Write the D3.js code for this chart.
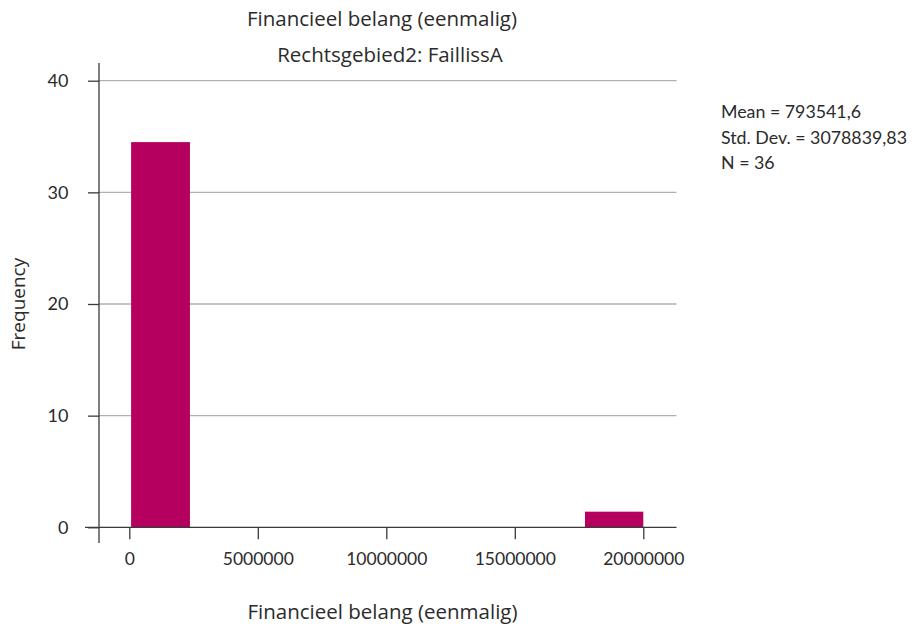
<!DOCTYPE html>
<html>
<head>
<meta charset="utf-8">
<script src="https://cdn.jsdelivr.net/npm/d3@7"></script>
<style>
  html, body { margin: 0; padding: 0; background: #fff; }
  svg text { font-family: Lato, "Noto Sans", sans-serif; fill: #2b2b2b; }
  svg text.ttl { font-family: "Open Sans", Lato, sans-serif; }
</style>
</head>
<body>
<svg id="chart" width="924" height="627"></svg>
<script>
// ---- data ----
const chartTitle = "Financieel belang (eenmalig)";
const chartSubtitle = "Rechtsgebied2: FaillissA";
const xAxisTitle = "Financieel belang (eenmalig)";
const yAxisTitle = "Frequency";
const binStarts = [70000, 17730000];
const binEnds = [2360000, 20000000];
const frequencies = [34.5, 1.4];
const xTicks = [0, 5000000, 10000000, 15000000, 20000000];
const yTicks = [0, 10, 20, 30, 40];
const statsLines = ["Mean = 793541,6", "Std. Dev. = 3078839,83", "N = 36"];

// ---- layout ----
const svg = d3.select("#chart");
const x = d3.scaleLinear().domain([0, 20000000]).range([129.3, 643.3]);
const y = d3.scaleLinear().domain([0, 40]).range([527.3, 80.7]);
const axisColor = "#3a3a3a";

// gridlines
svg.append("g").selectAll("line")
  .data(yTicks.filter(d => d > 0))
  .join("line")
  .attr("x1", 99).attr("x2", 676.5)
  .attr("y1", d => y(d)).attr("y2", d => y(d))
  .attr("stroke", "#b0b0b0").attr("stroke-width", 1.3);

// bars
svg.append("g").selectAll("rect")
  .data(frequencies.map((f, i) => ({ f, s: binStarts[i], e: binEnds[i] })))
  .join("rect")
  .attr("x", d => x(d.s))
  .attr("width", d => x(d.e) - x(d.s))
  .attr("y", d => y(d.f))
  .attr("height", d => y(0) - y(d.f))
  .attr("fill", "#b5005f");

// y axis
const yAxis = d3.axisLeft(y).tickValues(yTicks).tickSize(11).tickPadding(19.5).tickFormat(d3.format("d"));
const gy = svg.append("g").attr("transform", "translate(99,0)").call(yAxis);
gy.select(".domain").remove();
gy.append("line").attr("x1", 0).attr("x2", 0).attr("y1", 63).attr("y2", 543)
  .attr("stroke", axisColor).attr("stroke-width", 1.3);
gy.selectAll(".tick line").attr("stroke", axisColor).attr("stroke-width", 1.3);
gy.selectAll(".tick text").attr("font-size", 18).style("fill", "#2b2b2b");

// x axis
const xAxis = d3.axisBottom(x).tickValues(xTicks).tickSize(12).tickPadding(13).tickFormat(d3.format("d"));
const gx = svg.append("g").attr("transform", `translate(0,${y(0)})`).call(xAxis);
gx.select(".domain").remove();
gx.append("line").attr("x1", 85).attr("x2", 676.5).attr("y1", 0).attr("y2", 0)
  .attr("stroke", axisColor).attr("stroke-width", 1.3);
gx.selectAll(".tick line").attr("stroke", axisColor).attr("stroke-width", 1.3);
gx.selectAll(".tick text").attr("font-size", 17.5).style("fill", "#2b2b2b");

// titles
svg.append("text").attr("class", "ttl").attr("x", 382).attr("y", 26).attr("text-anchor", "middle")
  .attr("font-size", 20.5).text(chartTitle);
svg.append("text").attr("class", "ttl").attr("x", 390).attr("y", 62).attr("text-anchor", "middle")
  .attr("font-size", 20.5).text(chartSubtitle);
svg.append("text").attr("class", "ttl").attr("x", 382.5).attr("y", 619).attr("text-anchor", "middle")
  .attr("font-size", 20.5).text(xAxisTitle);
svg.append("text").attr("class", "ttl").attr("transform", "translate(25,304) rotate(-90)")
  .attr("text-anchor", "middle").attr("font-size", 19).text(yAxisTitle);

// stats
svg.append("g").selectAll("text")
  .data(statsLines)
  .join("text")
  .attr("x", 721)
  .attr("y", (d, i) => 118 + i * 25.5)
  .attr("font-size", 17.8)
  .text(d => d);
</script>
</body>
</html>
